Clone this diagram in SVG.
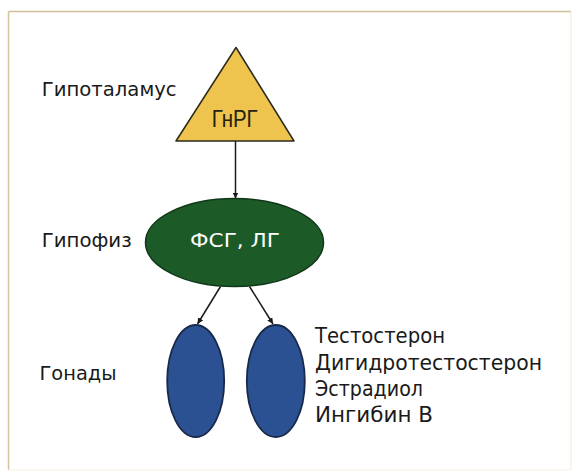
<svg xmlns="http://www.w3.org/2000/svg" width="573" height="473" viewBox="0 0 573 473">
  <defs>
    <marker id="arr" viewBox="0 0 10 10" refX="10" refY="5" markerWidth="6" markerHeight="6" markerUnits="userSpaceOnUse" orient="auto">
      <path d="M0,0 L10,5 L0,10 Z" fill="#1a1a1a"/>
    </marker>
  </defs>
  <style>
    .lbl { font-family: "DejaVu Sans", "Liberation Sans", sans-serif; font-size: 19px; fill: #1a1a1a; }
    .hor { font-family: "DejaVu Sans", "Liberation Sans", sans-serif; font-size: 20.5px; fill: #1a1a1a; }
    .edge { stroke: #1a1a1a; stroke-width: 1.5; fill: none; marker-end: url(#arr); }
  </style>
  <rect x="0" y="0" width="573" height="473" fill="#ffffff"/>
  <g id="frame">
    <line x1="8.5" y1="11.5" x2="571" y2="11.5" stroke="#d0bf9a" stroke-width="1.5"/>
    <line x1="8.5" y1="11.5" x2="8.5" y2="470" stroke="#d6c49c" stroke-width="1.5"/>
    <line x1="571" y1="11.5" x2="571" y2="470" stroke="#f1e9d8" stroke-width="1"/>
    <line x1="8.5" y1="470" x2="571" y2="470" stroke="#f6efe0" stroke-width="1"/>
  </g>
  <g id="connectors">
    <line class="edge" x1="235.5" y1="141" x2="235.5" y2="198.5"/>
    <line class="edge" x1="220.5" y1="286.5" x2="197.5" y2="324"/>
    <line class="edge" x1="249.5" y1="286.5" x2="273" y2="324"/>
  </g>
  <g id="hypothalamus">
    <text class="lbl" x="41.7" y="96" textLength="135" lengthAdjust="spacingAndGlyphs">Гипоталамус</text>
    <polygon points="236,47.5 176,141 294,141" fill="#efc44e" stroke="#2a2a1a" stroke-width="1.5" stroke-linejoin="round"/>
    <text x="211.7" y="126.7" textLength="46" lengthAdjust="spacingAndGlyphs" font-family="'Liberation Sans Narrow', 'Liberation Sans', sans-serif" font-size="23" fill="#22220f">ГнРГ</text>
  </g>
  <g id="pituitary">
    <text class="lbl" x="41.7" y="246.7" textLength="90" lengthAdjust="spacingAndGlyphs">Гипофиз</text>
    <ellipse cx="234.5" cy="242.5" rx="89" ry="44" fill="#1c5a27" stroke="#103818" stroke-width="1.5"/>
    <text class="lbl" x="190" y="247" textLength="90" lengthAdjust="spacingAndGlyphs" style="fill:#ffffff">ФСГ, ЛГ</text>
  </g>
  <g id="gonads">
    <text class="lbl" x="39.5" y="380" textLength="77" lengthAdjust="spacingAndGlyphs">Гонады</text>
    <ellipse cx="195.7" cy="381" rx="28.5" ry="56" fill="#2b5192" stroke="#182a4c" stroke-width="1.8"/>
    <ellipse cx="275.8" cy="381" rx="29" ry="56" fill="#2b5192" stroke="#182a4c" stroke-width="1.8"/>
  </g>
  <g id="hormones">
    <text class="hor" x="315" y="343.3" textLength="130" lengthAdjust="spacingAndGlyphs">Тестостерон</text>
    <text class="hor" x="315" y="369.5" textLength="227" lengthAdjust="spacingAndGlyphs">Дигидротестостерон</text>
    <text class="hor" x="315" y="395.5" textLength="108" lengthAdjust="spacingAndGlyphs">Эстрадиол</text>
    <text class="hor" x="315" y="421.5" textLength="118" lengthAdjust="spacingAndGlyphs">Ингибин В</text>
  </g>
</svg>
